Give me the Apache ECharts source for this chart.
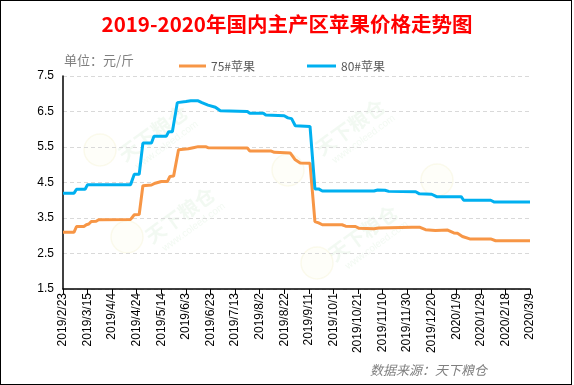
<!DOCTYPE html>
<html>
<head>
<meta charset="utf-8">
<script src="https://cdn.jsdelivr.net/npm/echarts@6/dist/echarts.min.js"></script>
<style>
html,body{margin:0;padding:0;background:#fff;}
#frame{position:absolute;left:0;top:0;width:570px;height:383px;border:1px solid #000;}
#chart{position:absolute;left:0;top:0;width:574px;height:385px;}
</style>
</head>
<body>
<div id="frame"></div>
<div id="chart"></div>
<script>
// ---- data ----
const titleText = '2019-2020年国内主产区苹果价格走势图';
const unitText = '单位：元/斤';
const sourceText = '数据来源：天下粮仓';
const seriesNames = ['75#苹果', '80#苹果'];
const startDay = [2019, 2, 23];   // first category (daily categories)
const dayCount = 381;              // 2019/2/23 .. 2020/3/9
const yTicks = [1.5, 2.5, 3.5, 4.5, 5.5, 6.5, 7.5];

// 75# apple: price change points (date, yuan/jin)
const dates75 = ['2019/2/23','2019/3/4','2019/3/6','2019/3/12','2019/3/14','2019/3/16','2019/3/18','2019/3/22','2019/3/24','2019/4/19','2019/4/22','2019/4/26','2019/4/29','2019/5/6','2019/5/9','2019/5/14','2019/5/19','2019/5/21','2019/5/24','2019/5/28','2019/6/5','2019/6/9','2019/6/13','2019/6/19','2019/6/21','2019/7/23','2019/7/25','2019/8/11','2019/8/14','2019/8/27','2019/8/31','2019/9/4','2019/9/12','2019/9/16','2019/9/19','2019/9/22','2019/10/8','2019/10/11','2019/10/19','2019/10/22','2019/11/3','2019/11/7','2019/12/4','2019/12/10','2019/12/15','2019/12/23','2020/1/2','2020/1/7','2020/1/10','2020/1/14','2020/1/20','2020/2/6','2020/2/10','2020/3/9'];
const prices75 = [3.10,3.10,3.26,3.26,3.31,3.33,3.40,3.41,3.45,3.46,3.59,3.60,4.41,4.43,4.48,4.53,4.53,4.67,4.68,5.42,5.45,5.48,5.51,5.51,5.48,5.47,5.39,5.39,5.35,5.33,5.14,5.05,5.04,3.40,3.36,3.31,3.31,3.27,3.26,3.21,3.20,3.22,3.24,3.24,3.17,3.15,3.16,3.08,3.07,2.98,2.91,2.91,2.86,2.86];

// 80# apple: price change points (date, yuan/jin)
const dates80 = ['2019/2/23','2019/3/4','2019/3/6','2019/3/13','2019/3/15','2019/4/19','2019/4/22','2019/4/26','2019/4/29','2019/5/6','2019/5/8','2019/5/18','2019/5/20','2019/5/23','2019/5/27','2019/6/3','2019/6/7','2019/6/13','2019/6/16','2019/6/21','2019/6/27','2019/7/1','2019/7/23','2019/7/25','2019/8/5','2019/8/7','2019/8/22','2019/8/25','2019/8/28','2019/8/31','2019/9/12','2019/9/16','2019/9/19','2019/9/22','2019/11/3','2019/11/6','2019/11/12','2019/11/15','2019/12/7','2019/12/10','2019/12/20','2019/12/24','2020/1/13','2020/1/15','2020/2/6','2020/2/9','2020/3/9'];
const prices80 = [4.20,4.20,4.31,4.31,4.44,4.44,4.73,4.73,5.61,5.61,5.80,5.80,5.93,5.93,6.75,6.78,6.80,6.80,6.75,6.68,6.62,6.52,6.50,6.45,6.45,6.40,6.38,6.32,6.30,6.10,6.08,4.32,4.32,4.26,4.26,4.29,4.28,4.25,4.24,4.18,4.17,4.10,4.10,4.00,4.00,3.95,3.95];

// ---- build ----
const categories = [];
for (let i = 0; i < dayCount; i++) {
  const d = new Date(startDay[0], startDay[1] - 1, startDay[2] + i);
  categories.push(d.getFullYear() + '/' + (d.getMonth() + 1) + '/' + d.getDate());
}
const zip = (a, b) => a.map((x, i) => [x, b[i]]);

const colors = ['#F79646', '#00B0F0'];
const wmText = (x, y) => ({
  type: 'group', x: x, y: y, rotation: Math.PI / 5, silent: true, z: -1,
  children: [
    { type: 'text', style: { text: '天下粮仓', x: 0, y: 0, fontSize: 20, fontWeight: 'bold', fill: 'rgba(150,205,150,0.12)', align: 'center', verticalAlign: 'middle', fontFamily: 'Noto Sans CJK SC' } },
    { type: 'text', style: { text: 'www.coleed.com', x: 4, y: 18, fontSize: 10, fill: 'rgba(150,205,150,0.12)', align: 'center', verticalAlign: 'middle', fontFamily: 'Liberation Sans' } }
  ]
});
const wmLogo = (x, y) => ({
  type: 'circle', silent: true, z: -1,
  shape: { cx: x, cy: y, r: 16 },
  style: { fill: 'rgba(250,242,200,0.10)', stroke: 'rgba(235,225,160,0.18)', lineWidth: 1.5 }
});

const chart = echarts.init(document.getElementById('chart'), null, { renderer: 'canvas' });
chart.setOption({
  animation: false,
  backgroundColor: 'transparent',
  color: colors,
  title: {
    text: titleText, left: 'center', top: 9,
    textStyle: { color: '#FF0000', fontSize: 20.5, fontWeight: 'bold', fontFamily: 'Noto Sans CJK SC' }
  },
  legend: [
    { data: [seriesNames[0]], left: 174, top: 55, icon: 'rect', itemWidth: 27, itemHeight: 3,
      textStyle: { color: '#595959', fontSize: 12, fontFamily: 'Noto Sans CJK SC' } },
    { data: [seriesNames[1]], left: 302, top: 55, icon: 'rect', itemWidth: 29, itemHeight: 3,
      textStyle: { color: '#595959', fontSize: 12, fontFamily: 'Noto Sans CJK SC' } }
  ],
  grid: { left: 63, right: 44, top: 76, bottom: 96, containLabel: false },
  xAxis: {
    type: 'category', data: categories, boundaryGap: false,
    axisLine: { lineStyle: { color: '#000', width: 1.5 } },
    axisTick: { show: true, interval: 19, length: 5, lineStyle: { color: '#000' } },
    axisLabel: { interval: 19, rotate: 90, margin: 4, color: '#000', fontSize: 12, fontFamily: 'Liberation Sans' },
    splitLine: { show: false }
  },
  yAxis: {
    type: 'value', min: yTicks[0], max: yTicks[yTicks.length - 1], interval: 1,
    axisLine: { show: true, lineStyle: { color: '#000', width: 1.5 } },
    axisTick: { show: false },
    axisLabel: { color: '#000', fontSize: 12, margin: 9, fontFamily: 'Liberation Sans', formatter: v => v.toFixed(1) },
    splitLine: { show: true, lineStyle: { color: '#D9D9D9', type: [4, 3], width: 1 } }
  },
  graphic: [
    wmLogo(100, 150), wmLogo(127, 237), wmLogo(288, 170), wmLogo(437, 180), wmLogo(317, 263),
    wmText(153, 133), wmText(180, 215), wmText(350, 127), wmText(363, 233),
    { type: 'text', left: 64, top: 54, style: { text: unitText, fontSize: 13, fill: '#7F7F7F', fontFamily: 'Noto Sans CJK SC' } },
    { type: 'text', left: 370, top: 364, style: { text: sourceText, fontSize: 13, fontStyle: 'italic', fill: '#7F7F7F', fontFamily: 'Noto Sans CJK SC' } }
  ],
  series: [
    { name: seriesNames[0], type: 'line', data: zip(dates75, prices75), showSymbol: false, symbol: 'none',
      lineStyle: { width: 3, color: colors[0] }, itemStyle: { color: colors[0] }, z: 3 },
    { name: seriesNames[1], type: 'line', data: zip(dates80, prices80), showSymbol: false, symbol: 'none',
      lineStyle: { width: 3, color: colors[1] }, itemStyle: { color: colors[1] }, z: 4 }
  ]
});
</script>
</body>
</html>
